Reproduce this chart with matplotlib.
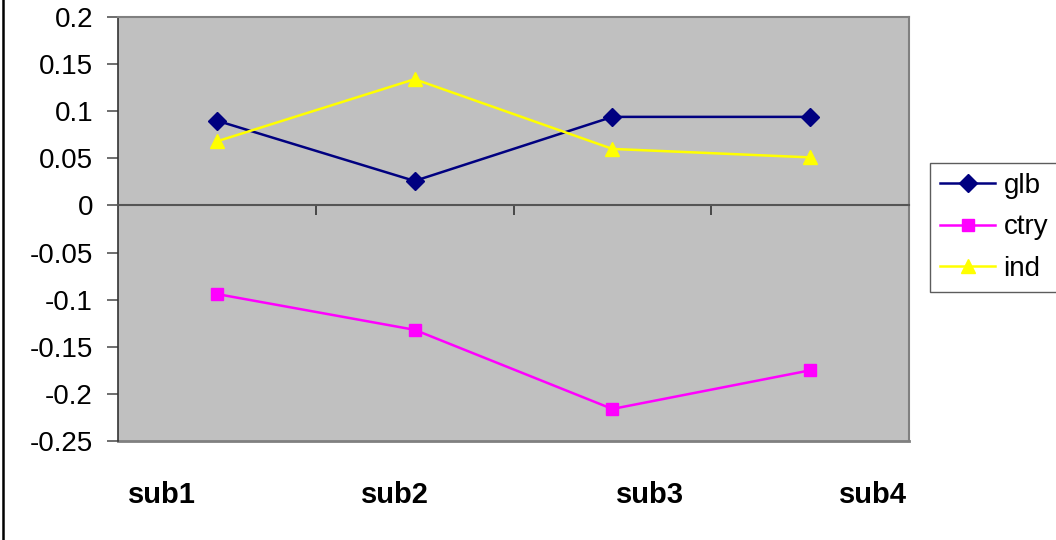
import matplotlib
matplotlib.use("Agg")
import matplotlib.pyplot as plt
import matplotlib.transforms as mtransforms
from matplotlib.lines import Line2D

plt.rcParams['font.family'] = ['Liberation Sans', 'DejaVu Sans']

# data
categories = ["sub1", "sub2", "sub3", "sub4"]
glb = [0.090, 0.026, 0.094, 0.094]
ctry = [-0.094, -0.132, -0.216, -0.175]
ind = [0.068, 0.134, 0.060, 0.051]
yticks = [0.2, 0.15, 0.1, 0.05, 0, -0.05, -0.1, -0.15, -0.2, -0.25]
ytick_labels = ["0.2", "0.15", "0.1", "0.05", "0", "-0.05", "-0.1", "-0.15", "-0.2", "-0.25"]

# category labels sit off-centre in the original
label_x = [0.72, 1.90, 3.19, 4.32]

fig = plt.figure(figsize=(10.56, 5.4), dpi=100)
ax = fig.add_axes([118/1056, 1 - 441/540, (909 - 118)/1056, (441 - 17)/540])
ax.set_facecolor('#C0C0C0')

x = list(range(1, len(categories) + 1))
ax.plot(x, glb, color='#000080', lw=1.8, marker='D', ms=9.5, label='glb')
ax.plot(x, ctry, color='#FF00FF', lw=1.8, marker='s', ms=8.5, label='ctry')
ax.plot(x, ind, color='#FFFF00', lw=1.8, marker='^', ms=10.5, label='ind')

ax.set_xlim(0.5, 4.5)
ax.set_ylim(-0.25, 0.2)

# y axis
ax.set_yticks(yticks)
ax.set_yticklabels(ytick_labels, fontsize=20)
ax.tick_params(axis='y', direction='out', length=8, width=1.2, color='#555555', pad=10)

# x axis crosses at zero, ticks at category boundaries
ax.spines['bottom'].set_position(('data', 0))
ax.spines['bottom'].set_color('#555555')
ax.spines['bottom'].set_linewidth(1.5)
ax.set_xticks([1.5, 2.5, 3.5, 4.5])
ax.set_xticklabels([])
ax.tick_params(axis='x', direction='out', length=7, width=1.2, color='#333333')

ax.spines['left'].set_color('#333333')
ax.spines['left'].set_linewidth(1.2)
for s in ['top', 'right']:
    ax.spines[s].set_color('#808080')
    ax.spines[s].set_linewidth(1.5)
ax.axhline(-0.25, color='#808080', lw=2, clip_on=False)

trans = mtransforms.blended_transform_factory(ax.transData, ax.transAxes)
for lx, name in zip(label_x, categories):
    ax.text(lx, -0.127, name, transform=trans, ha='center', va='center',
            fontsize=21, fontweight='bold')

leg = fig.legend(loc='center left', bbox_to_anchor=(930/1056, 1 - 227.5/540),
                 fontsize=20, frameon=True, fancybox=False, edgecolor='#333333',
                 handlelength=2.0, handletextpad=0.3, borderpad=0.35,
                 labelspacing=0.55, borderaxespad=0)
leg.get_frame().set_linewidth(1)

# chart area border on the left
fig.add_artist(Line2D([3/1056, 3/1056], [0, 1], color='black', lw=1.8,
                      transform=fig.transFigure))

fig.savefig('out.png', dpi=100)
